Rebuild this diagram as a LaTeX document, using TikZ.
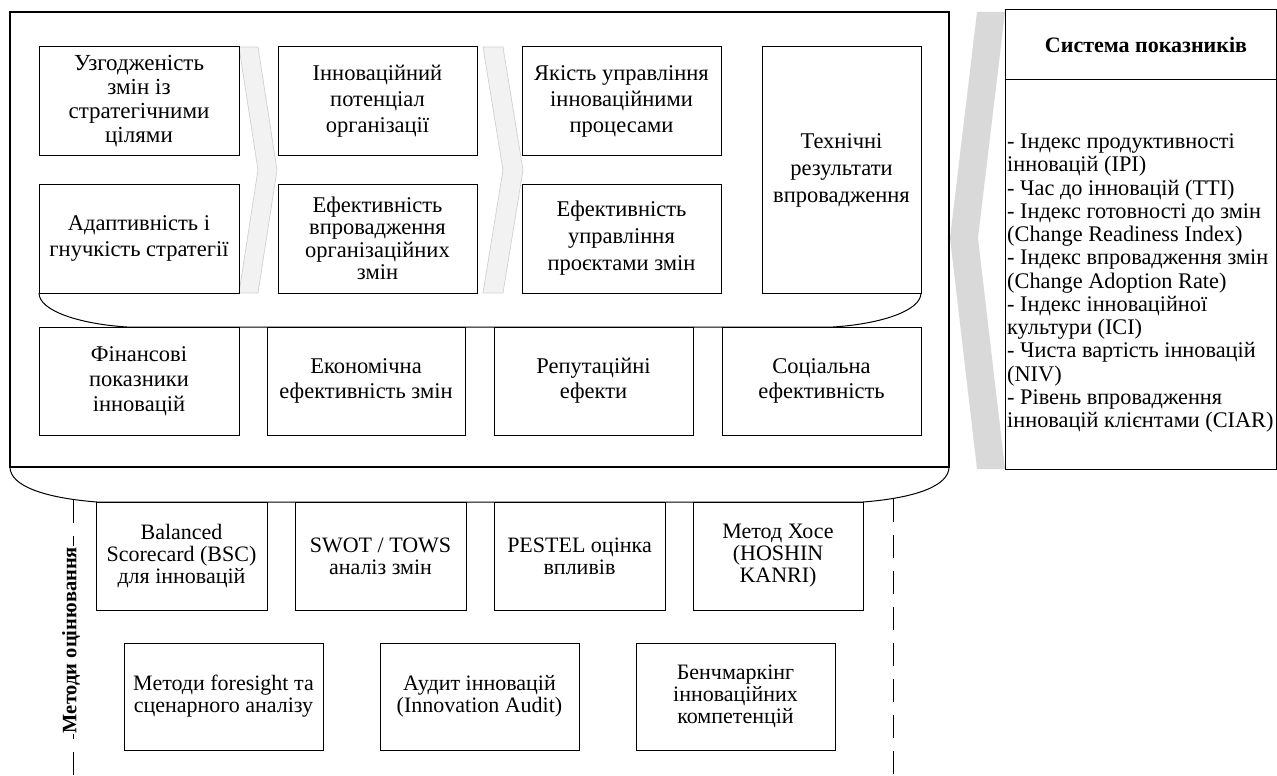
\documentclass[tikz,border=0pt]{standalone}
\usepackage{fontspec}
\setmainfont{Liberation Serif}
\begin{document}
\begin{tikzpicture}[x=1pt,y=-1pt,
  box/.style={draw=black, line width=1pt, align=center, inner sep=0pt, font=\fontsize{22.5}{25}\selectfont},
  mbox/.style={box, font=\fontsize{22}{22}\selectfont},
  chev/.style={fill=gray!10, draw=gray!36, line width=0.7pt},
  frame/.style={draw=black, line width=1.8pt},
  tab/.style={draw=black, line width=1pt},
  dashline/.style={draw=black, line width=1pt, dash pattern=on 23pt off 13pt},
]
\useasboundingbox (0,0) rectangle (1277,776);

% outer frame
\draw[frame] (10,12) rectangle (949,467);
\draw[tab] (10,467) .. controls (10,486) and (45,498) .. (97,502) -- (863,502) .. controls (915,498) and (949,486) .. (949,467);

% inner tab under top boxes
\draw[tab] (39,293) .. controls (39,311) and (80,324) .. (127,327) -- (833,327) .. controls (880,324) and (921,311) .. (921,293);

% chevrons between top columns
\draw[chev] (239,47) -- (258,47) -- (277,170) -- (258,293) -- (239,293) -- (258,170) -- cycle;
\draw[chev] (483,47) -- (503,47) -- (523,170) -- (503,293) -- (483,293) -- (503,170) -- cycle;

% top boxes
\node[box, minimum width=200, minimum height=108, font=\fontsize{23}{24}\selectfont] (b11) at (139,101) {Узгодженість\\змін із\\стратегічними\\цілями};
\node[box, minimum width=199, minimum height=108, font=\fontsize{22.5}{26}\selectfont] (b12) at (377.5,101) {Інноваційний\\потенціал\\організації};
\node[box, minimum width=199, minimum height=108, font=\fontsize{22.5}{26}\selectfont] (b13) at (621.5,101) {Якість управління\\інноваційними\\процесами};
\node[box, minimum width=159, minimum height=246, font=\fontsize{22.5}{27}\selectfont] (b14) at (841.5,170) {Технічні\\результати\\впровадження};
\node[box, minimum width=200, minimum height=109, font=\fontsize{22.5}{26}\selectfont] (b21) at (139,238.5) {Адаптивність і\\гнучкість стратегії};
\node[box, minimum width=199, minimum height=109, font=\fontsize{22.5}{22.5}\selectfont] (b22) at (377.5,238.5) {Ефективність\\впровадження\\організаційних\\змін};
\node[box, minimum width=199, minimum height=109, font=\fontsize{22.5}{27}\selectfont] (b23) at (621.5,238.5) {Ефективність\\управління\\проєктами змін};

% inner bottom row
\node[box, minimum width=200, minimum height=108] (c1) at (139,381) {Фінансові\\показники\\інновацій};
\node[box, minimum width=198, minimum height=108] (c2) at (366,381) {Економічна\\ефективність змін};
\node[box, minimum width=199, minimum height=108] (c3) at (593.5,381) {Репутаційні\\ефекти};
\node[box, minimum width=199, minimum height=108] (c4) at (821.5,381) {Соціальна\\ефективність};

% right bracket and indicator panel
\fill[gray!30] (977,12) -- (1005,12) -- (978,238) -- (1005,469) -- (977,469) -- (950,238) -- cycle;
\draw[line width=1pt] (1005,10) rectangle (1276,469);
\draw[line width=1pt] (1005,80) -- (1276,80);
\node[font=\bfseries\fontsize{22}{24}\selectfont] (sys) at (1146,45) {Система показників};
\node[anchor=west, align=left, inner sep=0pt, font=\fontsize{22.3}{23.25}\selectfont] (ind) at (1007,283) {- Індекс продуктивності\\інновацій (IPI)\\- Час до інновацій (TTI)\\- Індекс готовності до змін\\(Change Readiness Index)\\- Індекс впровадження змін\\(Change Adoption Rate)\\- Індекс інноваційної\\культури (ICI)\\- Чиста вартість інновацій\\(NIV)\\- Рівень впровадження\\інновацій клієнтами (CIAR)};

% dashed guide lines
\draw[dashline] (73,500) -- (73,776);
\draw[dashline] (893,499) -- (893,776);
\node[rotate=90, fill=white, inner sep=1pt, font=\bfseries\fontsize{20.5}{20.5}\selectfont] (lab) at (71,640) {Методи оцінювання};

% methods row 1
\node[mbox, minimum width=171, minimum height=108] (m1) at (181.5,556) {Balanced\\Scorecard (BSC)\\для інновацій};
\node[mbox, minimum width=171, minimum height=108] (m2) at (380.5,556) {SWOT / TOWS\\аналіз змін};
\node[mbox, minimum width=171, minimum height=108] (m3) at (579.5,556) {PESTEL оцінка\\впливів};
\node[mbox, minimum width=170, minimum height=108] (m4) at (778,556) {Метод Хосе\\(HOSHIN\\KANRI)};

% methods row 2
\node[mbox, minimum width=199, minimum height=107] (n1) at (223.5,696.5) {Методи foresight та\\сценарного аналізу};
\node[mbox, minimum width=199, minimum height=107] (n2) at (479.5,696.5) {Аудит інновацій\\(Innovation Audit)};
\node[mbox, minimum width=199, minimum height=107] (n3) at (735.5,696.5) {Бенчмаркінг\\інноваційних\\компетенцій};
\end{tikzpicture}
\end{document}
